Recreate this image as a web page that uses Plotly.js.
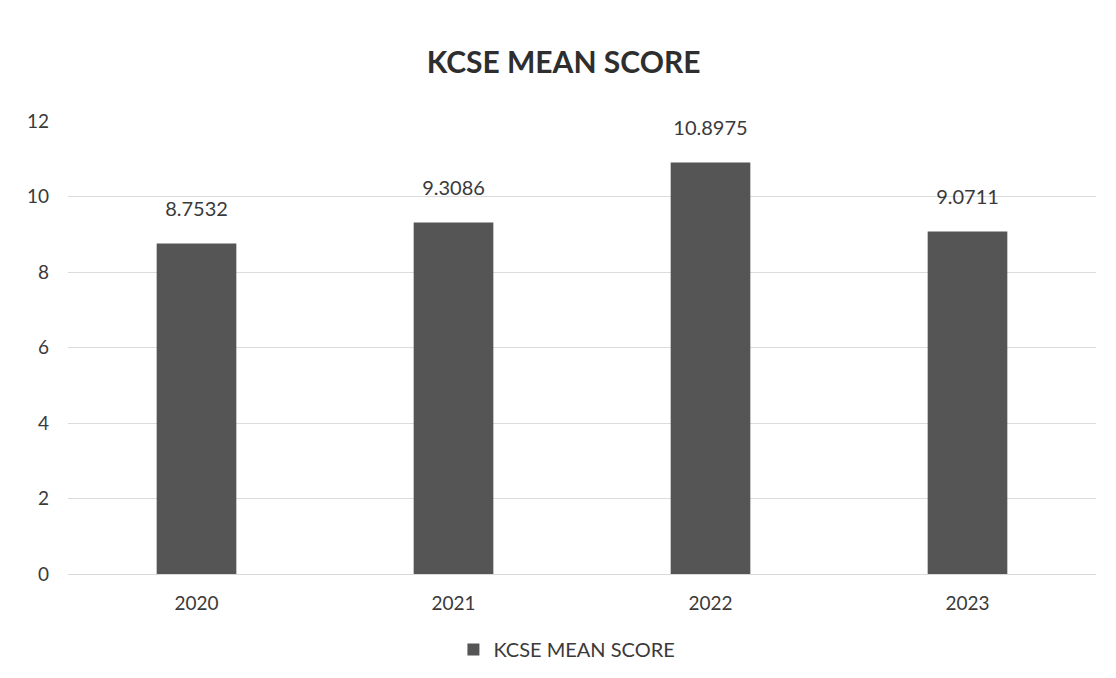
<!DOCTYPE html>
<html>
<head>
<meta charset="utf-8">
<script src="https://cdn.plot.ly/plotly-3.0.1.min.js"></script>
<style>html,body{margin:0;padding:0;background:#fff;}#chart{width:1116px;height:678px;}</style>
</head>
<body>
<div id="chart"></div>
<script>
const years = ["2020", "2021", "2022", "2023"];
const meanScores = [8.7532, 9.3086, 10.8975, 9.0711];
const labels = ["8.7532", "9.3086", "10.8975", "9.0711"];
const seriesName = "KCSE MEAN SCORE";
const yTicks = [0, 2, 4, 6, 8, 10, 12];

const FONT = "Lato, 'Open Sans', sans-serif";

const bars = {
  type: "bar",
  x: years,
  y: meanScores,
  name: seriesName,
  marker: {color: "#555555"},
  showlegend: true,
  hoverinfo: "x+y"
};

const dataLabels = {
  type: "scatter",
  mode: "markers+text",
  x: years,
  y: meanScores,
  text: labels,
  textposition: "top center",
  marker: {size: 34, opacity: 0, color: "#ffffff"},
  textfont: {family: FONT, size: 20, color: "#3a3a3a"},
  showlegend: false,
  cliponaxis: false,
  hoverinfo: "skip"
};

const layout = {
  width: 1116,
  height: 678,
  paper_bgcolor: "#ffffff",
  plot_bgcolor: "#ffffff",
  margin: {l: 68, r: 20, t: 121, b: 104},
  title: {
    text: "<b>KCSE MEAN SCORE</b>",
    font: {family: FONT, size: 30, color: "#2e2e2e"},
    x: 0.505, xanchor: "center",
    y: 0.908, yanchor: "middle"
  },
  font: {family: FONT, color: "#444"},
  bargap: 0.69,
  xaxis: {
    type: "category",
    tickfont: {size: 19, color: "#3a3a3a"},
    showgrid: false,
    showline: true,
    linecolor: "#d9d9d9",
    ticks: "",
    ticklabelstandoff: 12
  },
  yaxis: {
    range: [0, 12],
    autorange: false,
    tickvals: yTicks,
    ticktext: yTicks.map(String),
    tickfont: {size: 19, color: "#3a3a3a"},
    showgrid: true,
    gridcolor: "#dcdcdc",
    gridwidth: 1,
    zeroline: false,
    showline: false,
    ticks: "",
    ticklabelstandoff: 18
  },
  legend: {
    orientation: "h",
    xref: "container",
    yref: "container",
    x: 0.508, xanchor: "center",
    y: 0.042, yanchor: "middle",
    font: {size: 20, color: "#3a3a3a"}
  }
};

Plotly.newPlot("chart", [bars, dataLabels], layout, {displayModeBar: false, staticPlot: true});
</script>
</body>
</html>
